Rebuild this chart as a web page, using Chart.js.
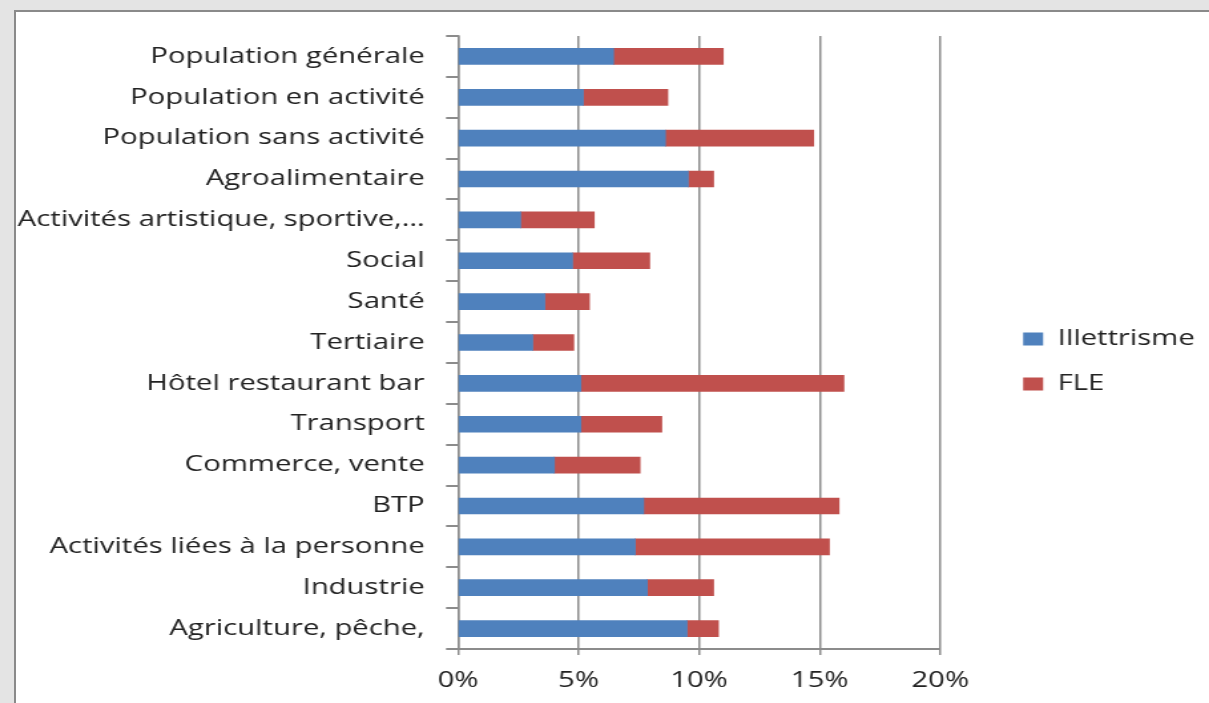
<!DOCTYPE html>
<html>
<head>
<meta charset="utf-8">
<script src="https://cdn.jsdelivr.net/npm/chart.js@4.4.1/dist/chart.umd.min.js"></script>
<style>
html, body { margin: 0; padding: 0; background: #e4e4e4; }
#frame { position: absolute; left: 14px; top: 10px; width: 1195px; height: 693px; background: #fff;
  border-left: 2px solid #8a8a8a; border-top: 2px solid #8a8a8a; overflow: hidden; }
/* the original picture is stretched sideways, so the canvas is too */
canvas { position: absolute; left: 0; top: 0; transform: scaleX(1.33); transform-origin: 0 0; }
</style>
</head>
<body>
<div id="frame"><canvas id="myChart" width="897" height="691"></canvas></div>
<script>
const CHART = document.getElementById("myChart");

// sectors, top to bottom
const categories = [
  'Population générale',
  'Population en activité',
  'Population sans activité',
  'Agroalimentaire',
  'Activités artistique, sportive,...',
  'Social',
  'Santé',
  'Tertiaire',
  'Hôtel restaurant bar',
  'Transport',
  'Commerce, vente',
  'BTP',
  'Activités liées à la personne',
  'Industrie',
  'Agriculture, pêche,'
];
// shares in %
const illettrisme = [6.45, 5.2, 8.6, 9.55, 2.6, 4.75, 3.6, 3.1, 5.1, 5.1, 4.0, 7.7, 7.35, 7.85, 9.5];
const fle = [4.55, 3.5, 6.15, 1.05, 3.05, 3.2, 1.85, 1.7, 10.9, 3.35, 3.55, 8.1, 8.05, 2.75, 1.3];
const xTicks = [0, 5, 10, 15, 20];

const font = { family: 'Open Sans', size: 22 };
const grey = '#8c8c8c';
const ink = '#222222';

let barchart = new Chart(CHART, {
  type: 'bar',
  data: {
    labels: categories,
    datasets: [{
      label: 'Illettrisme',
      backgroundColor: '#4f81bd',
      data: illettrisme,
      barThickness: 16
    },
    {
      label: 'FLE',
      backgroundColor: '#c0504d',
      data: fle,
      barThickness: 16
    }]
  },
  options: {
    indexAxis: 'y',
    responsive: false,
    animation: false,
    devicePixelRatio: 1,
    layout: { padding: { top: 24, bottom: 0, left: 0, right: 0.7 } },
    plugins: {
      tooltip: { enabled: false },
      legend: {
        position: 'right',
        align: 'start',
        maxWidth: 220,
        // empty title only used to push the two items down to mid height
        title: { display: true, text: '', font: { size: 1, lineHeight: 1 }, padding: { top: 268, bottom: 0 } },
        labels: { font: font, color: ink, boxWidth: 15, boxHeight: 13, padding: 23 }
      }
    },
    scales: {
      x: {
        stacked: true,
        min: 0, max: 20,
        afterBuildTicks: axis => { axis.ticks = xTicks.map(v => ({ value: v })); },
        afterFit: axis => { axis.height = 54; },
        ticks: { font: font, color: ink, padding: 13, callback: v => v + '%' },
        grid: { color: grey, lineWidth: 1.5, tickLength: 6 },
        border: { color: grey, width: 2 }
      },
      y: {
        stacked: true,
        afterFit: axis => { axis.width = 332.3; },
        ticks: { font: { family: 'Open Sans', size: 22, lineHeight: 0.5 }, color: ink, padding: 16 },
        grid: { drawOnChartArea: false, color: grey, lineWidth: 2, tickLength: 9 },
        border: { color: grey, width: 1.5 }
      },
      // empty space between the plot and the legend
      gap: {
        type: 'linear',
        position: 'right',
        ticks: { display: false },
        grid: { display: false },
        border: { display: false },
        afterFit: axis => { axis.width = 39.3; }
      }
    }
  }
});
</script>
</body>
</html>
